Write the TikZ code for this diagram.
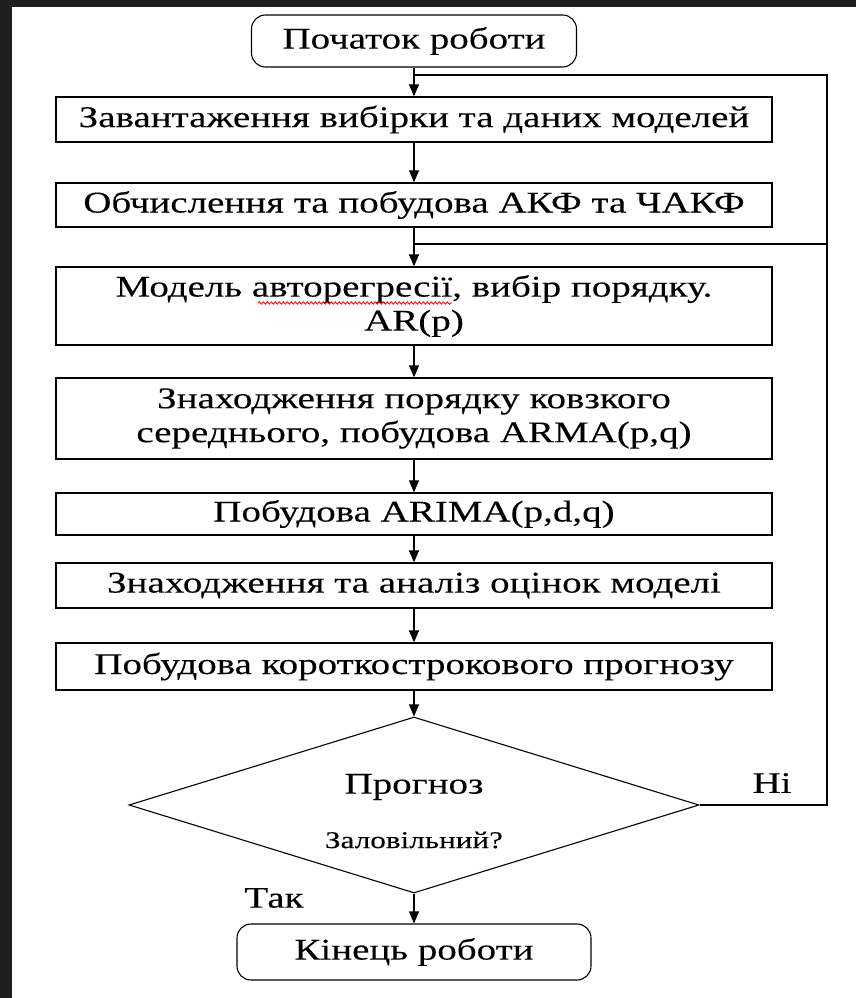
\documentclass[tikz,border=0pt]{standalone}
\usepackage{fontspec}
\setmainfont{Liberation Serif}[FakeStretch=1.3,FakeBold=0.15]
\usetikzlibrary{shapes.geometric,arrows.meta,decorations.pathmorphing}
\definecolor{frame}{HTML}{1F1F1F}
\tikzset{
  box/.style={draw=black, line width=1.3pt, fill=white, minimum width=716pt, inner sep=0pt, align=center, font=\fontsize{30}{34}\selectfont},
  term/.style={draw=black, line width=1.1pt, rounded corners=14pt, inner sep=0pt, align=center, font=\fontsize{30}{34}\selectfont},
  dec/.style={draw=black, line width=1.1pt, shape=diamond, inner sep=0pt, minimum width=570pt, minimum height=176pt, shape aspect=3.24},
  lbl/.style={inner sep=0pt, font=\fontsize{30}{34}\selectfont},
  conn/.style={draw=black, line width=1.1pt},
  arr/.style={conn, -{Triangle[length=12pt,width=10pt]}},
}
\begin{document}
\begin{tikzpicture}[x=1pt,y=-1pt]
\fill[frame] (0,0) rectangle (856,998);
\fill[white] (12,7) rectangle (856,998);
\useasboundingbox (0,0) rectangle (856,998);

\node[term, minimum width=325pt, minimum height=52pt] (start) at (414,41) {Початок роботи};
\node[box, minimum height=45pt] (b1) at (414,119.5) {Завантаження вибірки та даних моделей};
\node[box, minimum height=44pt] (b2) at (414,205) {Обчислення та побудова АКФ та ЧАКФ};
\node[box, minimum height=78pt] (b3) at (414,306) {Модель авторегресії, вибір порядку.\\AR(p)};
\node[box, minimum height=81pt] (b4) at (414,418.5) {Знаходження порядку ковзкого\\середнього, побудова ARMA(p,q)};
\node[box, minimum height=42pt] (b5) at (414,514) {Побудова ARIMA(p,d,q)};
\node[box, minimum height=45pt] (b6) at (414,585.5) {Знаходження та аналіз оцінок моделі};
\node[box, minimum height=47pt] (b7) at (414,666.5) {Побудова короткострокового прогнозу};
\node[dec] (dia) at (414,805) {};
\node[lbl] (q1) at (414,787) {Прогноз};
\node[lbl, font=\fontsize{24}{26}\selectfont] (q2) at (414,840) {Заловільний?};
\node[term, minimum width=354pt, minimum height=56pt] (end) at (414,952) {Кінець роботи};
\node[lbl] (no) at (772,783) {Ні};
\node[lbl] (yes) at (274,898) {Так};

\coordinate (j1) at (414,75);
\coordinate (j2) at (414,244);
\coordinate (r1) at (827,805);
\coordinate (r2) at (827,75);
\coordinate (r3) at (827,244);

\draw[arr] (start) -- (b1);
\draw[arr] (b1) -- (b2);
\draw[arr] (b2) -- (b3);
\draw[arr] (b3) -- (b4);
\draw[arr] (b4) -- (b5);
\draw[arr] (b5) -- (b6);
\draw[arr] (b6) -- (b7);
\draw[arr] (b7) -- (dia);
\draw[arr] (dia) -- (end);
\draw[conn] (dia.east) -- (r1) -- (r2) -- (j1);
\draw[conn] (r3) -- (j2);

\draw[red, line width=0.8pt, decorate, decoration={snake, amplitude=1.2pt, segment length=4pt}] (258,303) -- (452,303);
\end{tikzpicture}
\end{document}
